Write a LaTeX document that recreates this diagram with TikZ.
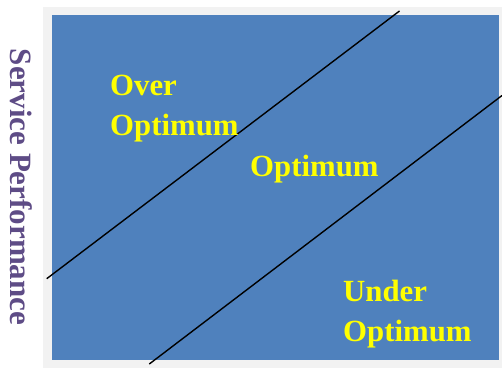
\documentclass[tikz,border=0pt]{standalone}
\usepackage{fontspec}
\setmainfont{Liberation Serif}
\definecolor{panelgrey}{HTML}{F2F2F2}
\definecolor{panelblue}{HTML}{4F81BD}
\definecolor{axispurple}{HTML}{5E4C86}
\definecolor{labelyellow}{HTML}{FFFF00}
\begin{document}
\begin{tikzpicture}[x=1pt,y=-1pt,
  region/.style={anchor=base west,inner sep=0pt,text=labelyellow,font=\bfseries\fontsize{30.8}{36}\selectfont},
  axislabel/.style={inner sep=0pt,text=axispurple,font=\bfseries\fontsize{31}{36}\selectfont,rotate=-90},
  boundary/.style={draw=black,line width=1.4pt}]
\useasboundingbox (0,0) rectangle (502,368);
\fill[panelgrey] (43,7) rectangle (502,368);
\fill[panelblue] (52,15) rectangle (498.5,359.5);
% boundary lines
\coordinate (l1a) at (46.7,278.7);
\coordinate (l1b) at (399.5,11);
\coordinate (l2a) at (149.3,364);
\coordinate (l2b) at (502,95.5);
\draw[boundary] (l1a) -- (l1b);
\draw[boundary] (l2a) -- (l2b);
% region labels
\node[region] (over1) at (110,95) {Over};
\node[region] (over2) at (110,135.5) {Optimum};
\node[region] (opt) at (250,176) {Optimum};
\node[region] (under1) at (343,301) {Under};
\node[region] (under2) at (343,341.5) {Optimum};
% axis label
\node[axislabel,anchor=base] (axis) at (10.5,187) {Service Performance};
\end{tikzpicture}
\end{document}
